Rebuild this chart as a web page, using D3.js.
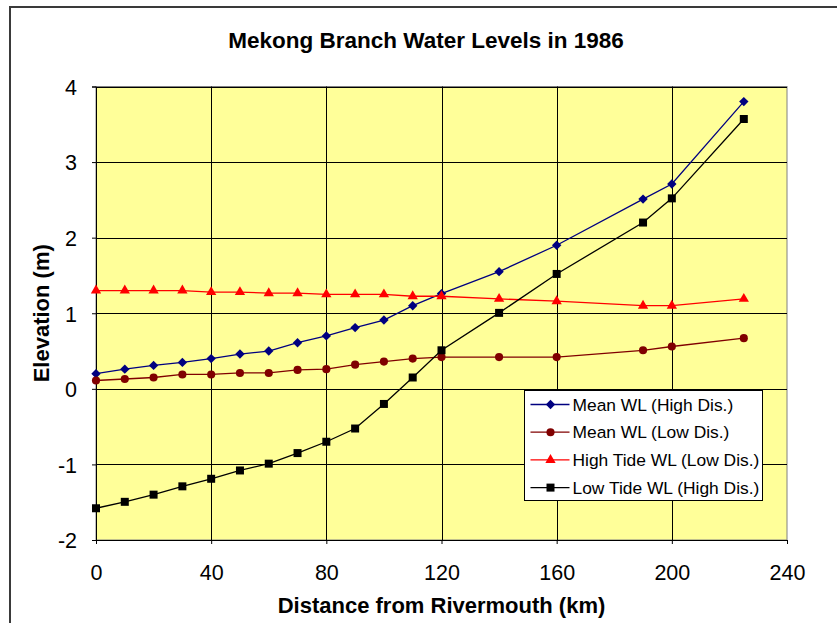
<!DOCTYPE html>
<html lang="en">
<head>
<meta charset="UTF-8">
<title>Mekong Branch Water Levels in 1986</title>
<script src="https://d3js.org/d3.v7.min.js"></script>
<style>
  body {
    margin: 0;
    background: #ffffff;
    font-family: Arial, "Liberation Sans", sans-serif;
  }
  svg { display: block; }
</style>
</head>
<body>
<svg id="chart" width="837" height="623"></svg>
<script>
// distances (km) and water levels (m)
const dist = [0, 10, 20, 30, 40, 50, 60, 70, 80, 90, 100, 110, 120, 140, 160, 190, 200, 225];
const meanHigh = [0.20, 0.26, 0.31, 0.35, 0.40, 0.46, 0.50, 0.61, 0.70, 0.81, 0.91, 1.10, 1.26, 1.55, 1.90, 2.51, 2.71, 3.80];
const meanLow = [0.11, 0.13, 0.15, 0.19, 0.19, 0.21, 0.21, 0.25, 0.26, 0.32, 0.36, 0.40, 0.42, 0.42, 0.42, 0.51, 0.56, 0.67];
const highTide = [1.30, 1.30, 1.30, 1.30, 1.28, 1.28, 1.265, 1.265, 1.25, 1.25, 1.25, 1.225, 1.225, 1.19, 1.16, 1.10, 1.10, 1.19];
const lowTide = [-1.58, -1.495, -1.40, -1.29, -1.19, -1.08, -0.99, -0.85, -0.70, -0.525, -0.20, 0.15, 0.51, 1.005, 1.52, 2.20, 2.52, 3.57];

const xTicks = [0, 40, 80, 120, 160, 200, 240];
const yTicks = [-2, -1, 0, 1, 2, 3, 4];

// diamond = square turned 45 degrees
const series = [
  { name: "Mean WL (High Dis.)", values: meanHigh, color: "#000080", symbol: d3.symbolSquare, size: 44, rot: 45 },
  { name: "Mean WL (Low Dis.)", values: meanLow, color: "#800000", symbol: d3.symbolCircle, size: 52, rot: 0 },
  { name: "High Tide WL (Low Dis.)", values: highTide, color: "#ff0000", symbol: d3.symbolTriangle, size: 46, rot: 0 },
  { name: "Low Tide WL (High Dis.)", values: lowTide, color: "#000000", symbol: d3.symbolSquare, size: 64, rot: 0 }
];

const svg = d3.select("#chart");

// outer chart border (runs off the right and bottom edges)
svg.append("path")
  .attr("d", "M10,700 V7 H900")
  .attr("fill", "none")
  .attr("stroke", "#3a3a3a")
  .attr("stroke-width", 2);

const plot = { left: 96, right: 787, top: 86.5, bottom: 540 };

const x = d3.scaleLinear().domain([0, 240]).range([plot.left, plot.right]);
const y = d3.scaleLinear().domain([-2, 4]).range([plot.bottom, plot.top]);

// plot background
svg.append("rect")
  .attr("x", plot.left)
  .attr("y", plot.top)
  .attr("width", plot.right - plot.left)
  .attr("height", plot.bottom - plot.top)
  .attr("fill", "#ffff99")
  .attr("stroke", "#808080")
  .attr("stroke-width", 1);

// gridlines
svg.append("g")
  .selectAll("line")
  .data(yTicks.slice(1))
  .join("line")
  .attr("x1", plot.left).attr("x2", plot.right)
  .attr("y1", d => Math.round(y(d)) + 0.5).attr("y2", d => Math.round(y(d)) + 0.5)
  .attr("stroke", "#000").attr("stroke-width", 1);

svg.append("g")
  .selectAll("line")
  .data(xTicks.slice(1, -1))
  .join("line")
  .attr("y1", plot.top).attr("y2", plot.bottom)
  .attr("x1", d => Math.round(x(d)) + 0.5).attr("x2", d => Math.round(x(d)) + 0.5)
  .attr("stroke", "#000").attr("stroke-width", 1);

// axes
const xAxis = svg.append("g")
  .attr("transform", `translate(0,${plot.bottom})`)
  .call(d3.axisBottom(x).tickValues(xTicks).tickFormat(d => String(d)).tickSize(4).tickPadding(21));
const yAxis = svg.append("g")
  .attr("transform", `translate(${plot.left},0)`)
  .call(d3.axisLeft(y).tickValues(yTicks).tickFormat(d => String(d)).tickSize(4).tickPadding(15));

[xAxis, yAxis].forEach(g => {
  g.select(".domain").attr("stroke", "#000");
  g.selectAll(".tick line").attr("stroke", "#000");
  g.selectAll("text")
    .attr("fill", "#000")
    .style("font-family", "Arial, 'Liberation Sans', sans-serif")
    .style("font-size", "21.5px");
});
yAxis.selectAll("text").attr("dy", "0.36em");

// series lines and markers
const line = d3.line()
  .x((d, i) => x(dist[i]))
  .y(d => y(d));

series.forEach(s => {
  svg.append("path")
    .datum(s.values)
    .attr("d", line)
    .attr("fill", "none")
    .attr("stroke", s.color)
    .attr("stroke-width", 1.3);

  svg.append("g")
    .selectAll("path")
    .data(s.values)
    .join("path")
    .attr("transform", (d, i) => `translate(${x(dist[i])},${y(d)}) rotate(${s.rot})`)
    .attr("d", d3.symbol().type(s.symbol).size(s.size))
    .attr("fill", s.color);
});

// titles
svg.append("text")
  .attr("x", 426)
  .attr("y", 48)
  .attr("text-anchor", "middle")
  .style("font-size", "22.5px")
  .style("font-weight", "bold")
  .text("Mekong Branch Water Levels in 1986");

svg.append("text")
  .attr("x", (plot.left + plot.right) / 2)
  .attr("y", 613)
  .attr("text-anchor", "middle")
  .style("font-size", "22px")
  .style("font-weight", "bold")
  .text("Distance from Rivermouth (km)");

svg.append("text")
  .attr("transform", `translate(49,${(plot.top + plot.bottom) / 2}) rotate(-90)`)
  .attr("text-anchor", "middle")
  .style("font-size", "22px")
  .style("font-weight", "bold")
  .text("Elevation (m)");

// legend
const legend = svg.append("g").attr("transform", "translate(524.5,390.5)");
legend.append("rect")
  .attr("width", 238)
  .attr("height", 110)
  .attr("fill", "#fff")
  .attr("stroke", "#000")
  .attr("stroke-width", 1);

series.forEach((s, i) => {
  const row = legend.append("g").attr("transform", `translate(0,${14 + i * 27.7})`);
  row.append("line")
    .attr("x1", 6).attr("x2", 45)
    .attr("stroke", s.color).attr("stroke-width", 1.3);
  row.append("path")
    .attr("transform", `translate(26,0) rotate(${s.rot})`)
    .attr("d", d3.symbol().type(s.symbol).size(s.size))
    .attr("fill", s.color);
  row.append("text")
    .attr("x", 48)
    .attr("dy", "0.35em")
    .style("font-size", "17.4px")
    .text(s.name);
});
</script>
</body>
</html>
